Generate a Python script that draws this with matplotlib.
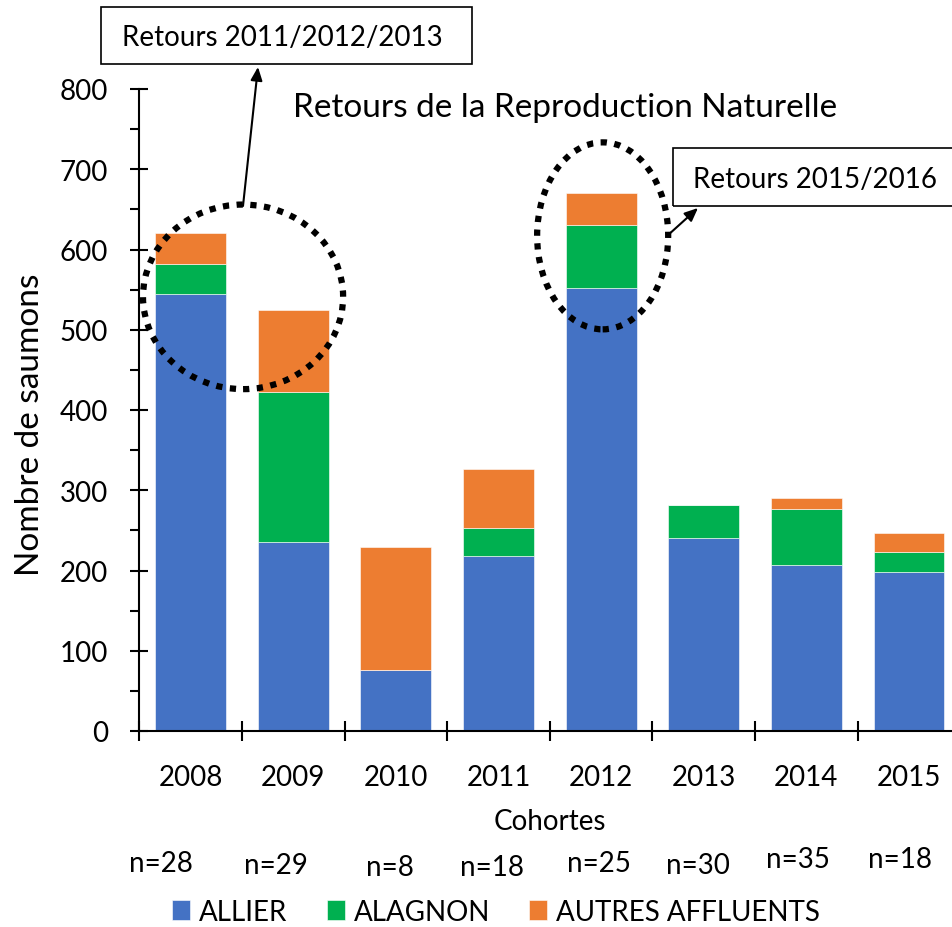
import numpy as np
import matplotlib
matplotlib.use("Agg")
import matplotlib.pyplot as plt
from matplotlib.patches import Ellipse, Rectangle

# Section: Data
# ---
cohortes = ["2008", "2009", "2010", "2011", "2012", "2013", "2014", "2015"]
allier = [544, 235, 76, 218, 552, 240, 207, 198]
alagnon = [38, 188, 0, 35, 78, 41, 70, 25]
autres = [39, 102, 153, 73, 40, 0, 13, 24]
effectifs = ["n=28", "n=29", "n=8", "n=18", "n=25", "n=30", "n=35", "n=18"]

series_names = ["ALLIER", "ALAGNON", "AUTRES AFFLUENTS"]
colors = ["#4472C4", "#00B050", "#ED7D31"]

# Section: Style
# ---
plt.rcParams['font.family'] = ['Lato', 'DejaVu Sans']
FS = 20
W, H = 953, 928

def fx(px):
    return px / W

def fy(py):
    return 1 - py / H

fig = plt.figure(figsize=(W / 100, H / 100), dpi=100)
ax = fig.add_axes([fx(139.3), fy(732), 821 / W, 642 / H])

# Section: Stacked bars
# ---
x = np.arange(len(cohortes))
a1 = np.array(allier)
a2 = np.array(alagnon)
a3 = np.array(autres)
bw = 0.69
ax.bar(x, a1, bw, color=colors[0], edgecolor="white", linewidth=0.4, label=series_names[0])
ax.bar(x, a2, bw, bottom=a1, color=colors[1], edgecolor="white", linewidth=0.4, label=series_names[1])
ax.bar(x, a3, bw, bottom=a1 + a2, color=colors[2], edgecolor="white", linewidth=0.4, label=series_names[2])

ax.set_xlim(-0.5, len(cohortes) - 0.5)
ax.set_ylim(0, 800)
ax.set_yticks(np.arange(0, 801, 100))
ax.set_yticks(np.arange(50, 800, 100), minor=True)
ax.set_xticks(x)
ax.set_xticklabels(cohortes)
ax.set_xticks(np.arange(-0.5, len(cohortes)), minor=True)

for s in ["top", "right"]:
    ax.spines[s].set_visible(False)
for s in ["left", "bottom"]:
    ax.spines[s].set_linewidth(1.5)

ax.tick_params(axis="y", which="major", direction="inout", length=13, width=1.5,
               labelsize=FS, pad=16)
ax.tick_params(axis="y", which="minor", direction="out", length=6.5, width=1.5)
ax.tick_params(axis="x", which="major", length=0, labelsize=FS, pad=24)
ax.tick_params(axis="x", which="minor", direction="inout", length=14, width=1.5)

ax.set_ylabel("Nombre de saumons", fontsize=24, va="center")
ax.yaxis.set_label_coords(-0.133, 0.478)
fig.text(fx(550), fy(822), "Cohortes", fontsize=FS, ha="center", va="center")

# sample sizes below each cohort
n_offsets = [-30, -17, -6, -6, -2, -6, -8, -9]
n_dy = [864, 866, 868, 868, 864, 866, 860, 860]
for i, lab in enumerate(effectifs):
    cx = 139.3 + (i + 0.5) * 102.6 + n_offsets[i]
    fig.text(fx(cx), fy(n_dy[i]), lab, fontsize=FS, ha="center", va="center")

fig.text(fx(565), fy(108), "Retours de la Reproduction Naturelle", fontsize=24,
         ha="center", va="center")

# Section: Highlighted cohorts
# ---
dots = (0, (1, 1.2))
ax.add_patch(Ellipse((0.511, 541), 1.95, 230, fill=False, edgecolor="black",
                     linewidth=4.5, linestyle=dots, clip_on=False, zorder=5))
ax.add_patch(Ellipse((4.015, 617), 1.277, 233, fill=False, edgecolor="black",
                     linewidth=4.5, linestyle=dots, clip_on=False, zorder=5))

# callout boxes
fig.add_artist(Rectangle((fx(101.5), fy(65)), (472 - 101.5) / W, 57 / H,
                         transform=fig.transFigure, fill=False, edgecolor="black", linewidth=1.2))
fig.text(fx(282), fy(38), "Retours 2011/2012/2013", fontsize=FS, ha="center", va="center")
fig.add_artist(Rectangle((fx(673), fy(207)), (958 - 673) / W, 58 / H,
                         transform=fig.transFigure, fill=False, edgecolor="black", linewidth=1.2))
fig.text(fx(815), fy(180), "Retours 2015/2016", fontsize=FS, ha="center", va="center")

arrow = dict(arrowstyle="-|>,head_length=0.8,head_width=0.35", color="black", lw=1.5,
             shrinkA=0, shrinkB=0)
ax.annotate("", xy=(258, H - 68), xytext=(243, H - 207), xycoords="figure pixels",
            textcoords="figure pixels", arrowprops=arrow)
ax.annotate("", xy=(698, H - 209), xytext=(667, H - 237), xycoords="figure pixels",
            textcoords="figure pixels", arrowprops=arrow)

# Section: Legend
# ---
fig.legend(loc="center", bbox_to_anchor=(fx(496), fy(913)), ncol=3, frameon=False,
           fontsize=FS, handlelength=0.65, handleheight=0.72, handletextpad=0.32,
           columnspacing=1.4)

fig.savefig("out.png", dpi=100)
